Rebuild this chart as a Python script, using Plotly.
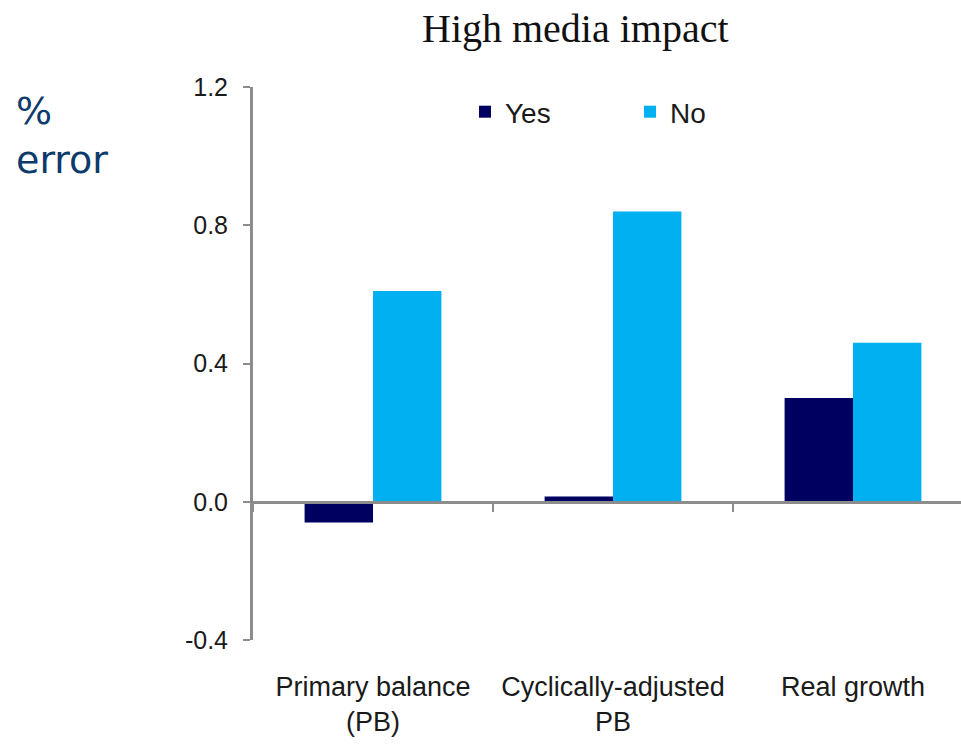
import plotly.graph_objects as go

# Forecast error by fiscal indicator, split by media impact
categories = ["Primary balance<br>(PB)", "Cyclically-adjusted<br>PB", "Real growth"]
yes_values = [-0.06, 0.015, 0.30]
no_values = [0.61, 0.84, 0.46]
series_names = ["Yes", "No"]
y_ticks = [-0.4, 0.0, 0.4, 0.8, 1.2]
y_ticktext = ["-0.4", "0.0", "0.4", "0.8", "1.2"]

YES_COLOR = "#000060"
NO_COLOR = "#00b0f0"
AXIS_GREY = "#8c8c8c"
TEXT_DARK = "#1a1a1a"
SANS = "Liberation Sans, Arial, sans-serif"
y_range = [-0.4, 1.2]
x_range = [-0.5, 2.45]

fig = go.Figure()
fig.add_trace(go.Bar(x=categories, y=yes_values, name=series_names[0],
                     marker=dict(color=YES_COLOR, line=dict(width=0))))
fig.add_trace(go.Bar(x=categories, y=no_values, name=series_names[1],
                     marker=dict(color=NO_COLOR, line=dict(width=0))))
# carrier for the zero-level category axis
fig.add_trace(go.Scatter(x=categories, y=[None] * len(categories), xaxis="x2",
                         showlegend=False, hoverinfo="skip", mode="lines"))

zero_pos = (0 - y_range[0]) / (y_range[1] - y_range[0])

fig.update_layout(
    width=961, height=746,
    margin=dict(l=253, r=0, t=87, b=106, autoexpand=False),
    paper_bgcolor="white", plot_bgcolor="white",
    barmode="group", bargap=0.43, bargroupgap=0,
    showlegend=True,
    legend=dict(orientation="h", x=0.2994, y=1.0, xanchor="left", yanchor="top",
                bgcolor="rgba(0,0,0,0)", entrywidth=120, entrywidthmode="pixels",
                font=dict(family=SANS, size=28, color=TEXT_DARK)),
    xaxis=dict(range=x_range, showline=False, showgrid=False, zeroline=False,
               ticks="", tickangle=0, automargin=False,
               tickfont=dict(family=SANS, size=27, color=TEXT_DARK),
               ticklabelstandoff=28),
    xaxis2=dict(range=x_range, overlaying="x", anchor="free", position=zero_pos,
                type="category", showline=True, linecolor=AXIS_GREY, linewidth=3,
                ticks="outside", tickson="boundaries", ticklen=8, tickwidth=2,
                tickcolor=AXIS_GREY, showticklabels=False, showgrid=False,
                zeroline=False, automargin=False),
    yaxis=dict(range=y_range, tickvals=y_ticks, ticktext=y_ticktext,
               showline=True, linecolor=AXIS_GREY, linewidth=3,
               ticks="outside", ticklen=7, tickwidth=2, tickcolor=AXIS_GREY,
               showgrid=False, zeroline=False, automargin=False,
               tickfont=dict(family=SANS, size=25, color=TEXT_DARK),
               ticklabelstandoff=10),
    annotations=[
        dict(text="High media impact", xref="paper", yref="paper", x=0.456, y=1.0,
             xanchor="center", yanchor="bottom", yshift=34, showarrow=False,
             font=dict(family="Liberation Serif, Times New Roman, serif", size=40, color="#111111")),
        dict(text="%<br>error", xref="paper", yref="paper", x=-0.337, y=1.0,
             xanchor="left", yanchor="top", yshift=0, align="left", showarrow=False,
             font=dict(family="DejaVu Sans, Verdana, sans-serif", size=38, color="#0b3a6b")),
    ],
)

fig.write_html("out.html")
